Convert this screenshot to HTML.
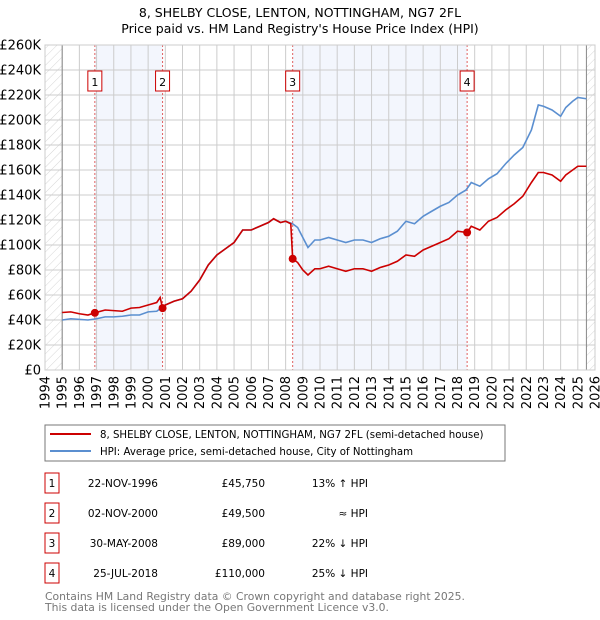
<!DOCTYPE html>
<html><head><meta charset="utf-8"><style>
body{margin:0;background:#fff;font-family:"DejaVu Sans","Liberation Sans",sans-serif;}
svg{display:block}
</style></head><body>
<svg id="c" width="600" height="620" xmlns="http://www.w3.org/2000/svg">
<defs><pattern id="hatch" width="6" height="6" patternUnits="userSpaceOnUse" patternTransform="rotate(45)"><line x1="0" y1="0" x2="0" y2="6" stroke="#ccc" stroke-width="0.8"/></pattern></defs>
<text x="300" y="17" text-anchor="middle" font-size="12.5">8, SHELBY CLOSE, LENTON, NOTTINGHAM, NG7 2FL</text>
<text x="300" y="33" text-anchor="middle" font-size="12.5">Price paid vs. HM Land Registry's House Price Index (HPI)</text>
<g id="plot"></g>
<rect x="45" y="425" width="460" height="36" fill="#fff" stroke="#777"/>
<line x1="50" y1="434" x2="91" y2="434" stroke="#cc0000" stroke-width="2"/>
<text x="100" y="438" font-size="10.2">8, SHELBY CLOSE, LENTON, NOTTINGHAM, NG7 2FL (semi-detached house)</text>
<line x1="50" y1="451" x2="91" y2="451" stroke="#5b8fd0" stroke-width="2"/>
<text x="100" y="455" font-size="10.2">HPI: Average price, semi-detached house, City of Nottingham</text>
<g id="table" font-size="10.5"></g>
<text x="45" y="600" font-size="10.8" fill="#777">Contains HM Land Registry data © Crown copyright and database right 2025.</text>
<text x="45" y="611" font-size="10.8" fill="#777">This data is licensed under the Open Government Licence v3.0.</text>
</svg>
<script>
const hpiYears=[1995,1995.5,1996,1996.5,1997,1997.5,1998,1998.5,1999,1999.5,2000,2000.5,2000.8,2001,2001.5,2002,2002.5,2003,2003.5,2004,2004.5,2005,2005.5,2006,2006.5,2007,2007.3,2007.7,2008,2008.4,2008.7,2009,2009.3,2009.7,2010,2010.5,2011,2011.5,2012,2012.5,2013,2013.5,2014,2014.5,2015,2015.5,2016,2016.5,2017,2017.5,2018,2018.5,2018.8,2019.3,2019.8,2020.3,2020.8,2021.3,2021.8,2022.3,2022.7,2023,2023.5,2024,2024.3,2024.7,2025,2025.5];
const hpiValues=[40,41,40.5,40,41,42.5,42.5,43,44,44,46.5,47,50,52,55,57,63,72,84,92,97,102,112,112,115,118,121,118,119,117,114,106,98,104,104,106,104,102,104,104,102,105,107,111,119,117,123,127,131,134,140,144,150,147,153,157,165,172,178,192,212,211,208,203,210,215,218,217];
const priceYears=[1995,1995.5,1996,1996.5,1996.9,1997.5,1998,1998.5,1999,1999.5,2000,2000.5,2000.7,2000.84,2001,2001.5,2002,2002.5,2003,2003.5,2004,2004.5,2005,2005.5,2006,2006.5,2007,2007.3,2007.7,2008,2008.3,2008.41,2008.7,2009,2009.3,2009.7,2010,2010.5,2011,2011.5,2012,2012.5,2013,2013.5,2014,2014.5,2015,2015.5,2016,2016.5,2017,2017.5,2018,2018.56,2018.8,2019.3,2019.8,2020.3,2020.8,2021.3,2021.8,2022.3,2022.7,2023,2023.5,2024,2024.3,2024.7,2025,2025.5];
const priceValues=[46,46.5,45,44,45.75,48,47.5,47,49.5,50,52,54,58,49.5,52,55,57,63,72,84,92,97,102,112,112,115,118,121,118,119,117,89,86,80,76,81,81,83,81,79,81,81,79,82,84,87,92,91,96,99,102,105,111,110,115,112,119,122,128,133,139,150,158,158,156,151,156,160,163,163];
const saleYears=[1996.9,2000.84,2008.41,2018.56];
const saleValues=[45.75,49.5,89,110];
const saleLabels=["1","2","3","4"];
const saleDates=["22-NOV-1996","02-NOV-2000","30-MAY-2008","25-JUL-2018"];
const salePrices=["£45,750","£49,500","£89,000","£110,000"];
const saleHpi=["13% ↑ HPI","≈ HPI","22% ↓ HPI","25% ↓ HPI"];
const yTicks=[0,20,40,60,80,100,120,140,160,180,200,220,240,260];
const xTicks=[1994,1995,1996,1997,1998,1999,2000,2001,2002,2003,2004,2005,2006,2007,2008,2009,2010,2011,2012,2013,2014,2015,2016,2017,2018,2019,2020,2021,2022,2023,2024,2025,2026];

const NS="http://www.w3.org/2000/svg";
const X0=45,X1=595,Y0=370,Y1=45;
const xs=y=>X0+(y-1994)/(2026-1994)*(X1-X0);
const ys=v=>Y0-(v/260)*(Y0-Y1);
const plot=document.getElementById('plot');
function mk(tag,attrs,parent){const e=document.createElementNS(NS,tag);for(const k in attrs)e.setAttribute(k,attrs[k]);(parent||plot).appendChild(e);return e;}

for(let i=0;i<saleYears.length;i+=2){
  const r=mk('rect',{x:xs(saleYears[i]),y:Y1,width:xs(saleYears[i+1])-xs(saleYears[i]),height:Y0-Y1,fill:'#f3f6fd'});
  
  
}
let h1=mk('rect',{x:X0,y:Y1,width:xs(1995)-X0,height:Y0-Y1,fill:'url(#hatch)'});


let h2=mk('rect',{x:xs(2025.5),y:Y1,width:X1-xs(2025.5),height:Y0-Y1,fill:'url(#hatch)'});


yTicks.forEach(t=>{
  const g=mk('line',{x1:X0,x2:X1,y1:ys(t),y2:ys(t),stroke:'#ccc','stroke-width':1});
  
  
  const l=mk('text',{x:X0-4,y:ys(t)+4.5,'text-anchor':'end','font-size':13});
  l.textContent=t===0?'£0':'£'+t+'K';
  
  
});
xTicks.forEach(t=>{
  const g=mk('line',{x1:xs(t),x2:xs(t),y1:Y1,y2:Y0,stroke:'#ccc','stroke-width':1});
  
  
  const l=mk('text',{x:0,y:0,'text-anchor':'end','font-size':13,transform:`translate(${xs(t)+4.5},${Y0+6}) rotate(-90)`});
  l.textContent=t;
  
  
});
const a1=mk('line',{x1:xs(1995),x2:xs(1995),y1:Y1,y2:Y0,stroke:'#888'});


const a2=mk('line',{x1:xs(2025.5),x2:xs(2025.5),y1:Y1,y2:Y0,stroke:'#888'});


saleYears.forEach((s,i)=>{
  const l=mk('line',{x1:xs(s),x2:xs(s),y1:Y1,y2:Y0,stroke:'#e06060','stroke-dasharray':'2,2','stroke-width':1});
  
  
  const b=mk('rect',{x:xs(s)-7,y:71,width:14,height:20,fill:'#fff',stroke:'#cc0000'});
  
  
  const t=mk('text',{x:xs(s),y:86,'text-anchor':'middle','font-size':11});
  t.textContent=saleLabels[i];
  
  
});
const hp=mk('polyline',{points:hpiYears.map((y,i)=>xs(y)+','+ys(hpiValues[i])).join(' '),fill:'none',stroke:'#5b8fd0','stroke-width':1.6});


const pp=mk('polyline',{points:priceYears.map((y,i)=>xs(y)+','+ys(priceValues[i])).join(' '),fill:'none',stroke:'#cc0000','stroke-width':1.6});


saleYears.forEach((s,i)=>{
  const c=mk('circle',{cx:xs(s),cy:ys(saleValues[i]),r:4,fill:'#cc0000'});
  
  
});
const fr=mk('rect',{x:X0,y:Y1,width:X1-X0,height:Y0-Y1,fill:'none',stroke:'#ccc'});


const tb=document.getElementById('table');
saleYears.forEach((s,i)=>{
  const cy=483+i*30;
  const b=mk('rect',{x:45,y:cy-10,width:14,height:20,fill:'#fff',stroke:'#cc0000'},tb);
  
  
  const n=mk('text',{x:52,y:cy+4,'text-anchor':'middle'},tb);n.textContent=saleLabels[i];
  
  
  const d=mk('text',{x:158,y:cy+4,'text-anchor':'end'},tb);d.textContent=saleDates[i];
  
  
  const p=mk('text',{x:265,y:cy+4,'text-anchor':'end'},tb);p.textContent=salePrices[i];
  
  
  const h=mk('text',{x:368,y:cy+4,'text-anchor':'end'},tb);h.textContent=saleHpi[i];
  
  
});
</script>
</body></html>
